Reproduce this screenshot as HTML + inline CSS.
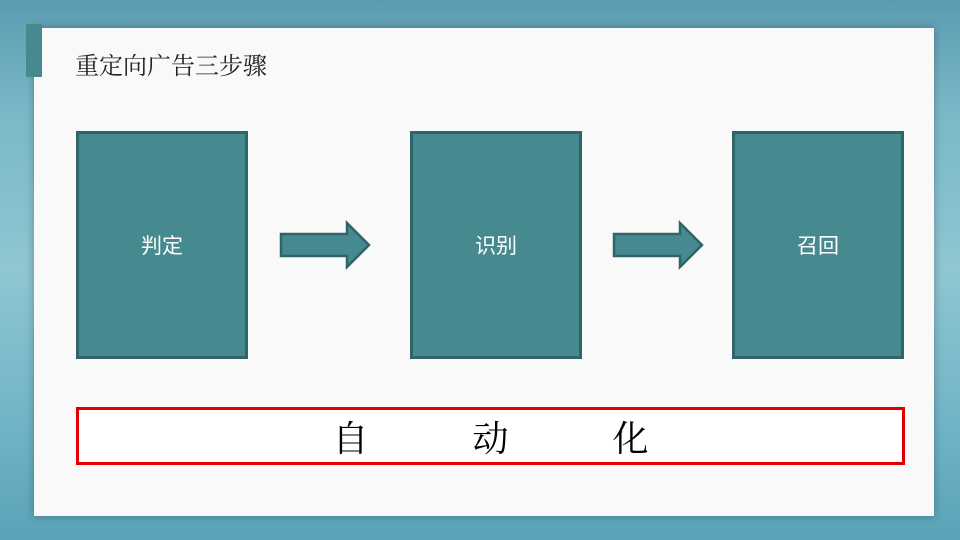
<!DOCTYPE html>
<html><head><meta charset="utf-8"><style>
body{margin:0;width:960px;height:540px;overflow:hidden;background:linear-gradient(180deg,#5b9cb0 0%,#7ab8c8 20%,#8fc6d2 50%,#6fb3c6 80%,#5aa3b8 100%);font-family:"Liberation Sans","Noto Sans CJK SC",sans-serif;position:relative}
.panel{position:absolute;left:34px;top:28px;width:900px;height:488px;background:#f9f9f9;box-shadow:0 0 8px rgba(0,0,0,.3)}
.tab{position:absolute;left:26px;top:24px;width:16px;height:53px;background:#468a8f}
.title{position:absolute;left:75px;top:46px;font-size:24px;color:#222;font-family:"Liberation Serif","Noto Serif CJK SC",serif}
.box{position:absolute;top:131px;width:166px;height:222px;background:#468a8f;border:3px solid #2f6468;color:#fff;font-size:21px;display:flex;align-items:center;justify-content:center}
.red{position:absolute;left:76px;top:407px;width:823px;height:52px;border:3px solid #e00000;background:#fff;font-size:36px;display:flex;align-items:center;justify-content:center;font-family:"Liberation Serif","Noto Serif CJK SC",serif}
</style></head><body>
<div class="panel"></div><div class="tab"></div>
<div class="title">重定向广告三步骤</div>
<div class="box" style="left:76px">判定</div>
<div class="box" style="left:410px">识别</div>
<div class="box" style="left:732px">召回</div>
<svg style="position:absolute;left:0;top:0" width="960" height="540">
<polygon points="281,234 347,234 347,223 369,245 347,267 347,256 281,256" fill="#468a8f" stroke="#2f6468" stroke-width="2.5"/>
<polygon points="614,234 680,234 680,223 702,245 680,267 680,256 614,256" fill="#468a8f" stroke="#2f6468" stroke-width="2.5"/>
</svg>
<div class="red"><span style="margin-right:104px">自</span><span style="margin-right:104px">动</span><span>化</span></div>
</body></html>
